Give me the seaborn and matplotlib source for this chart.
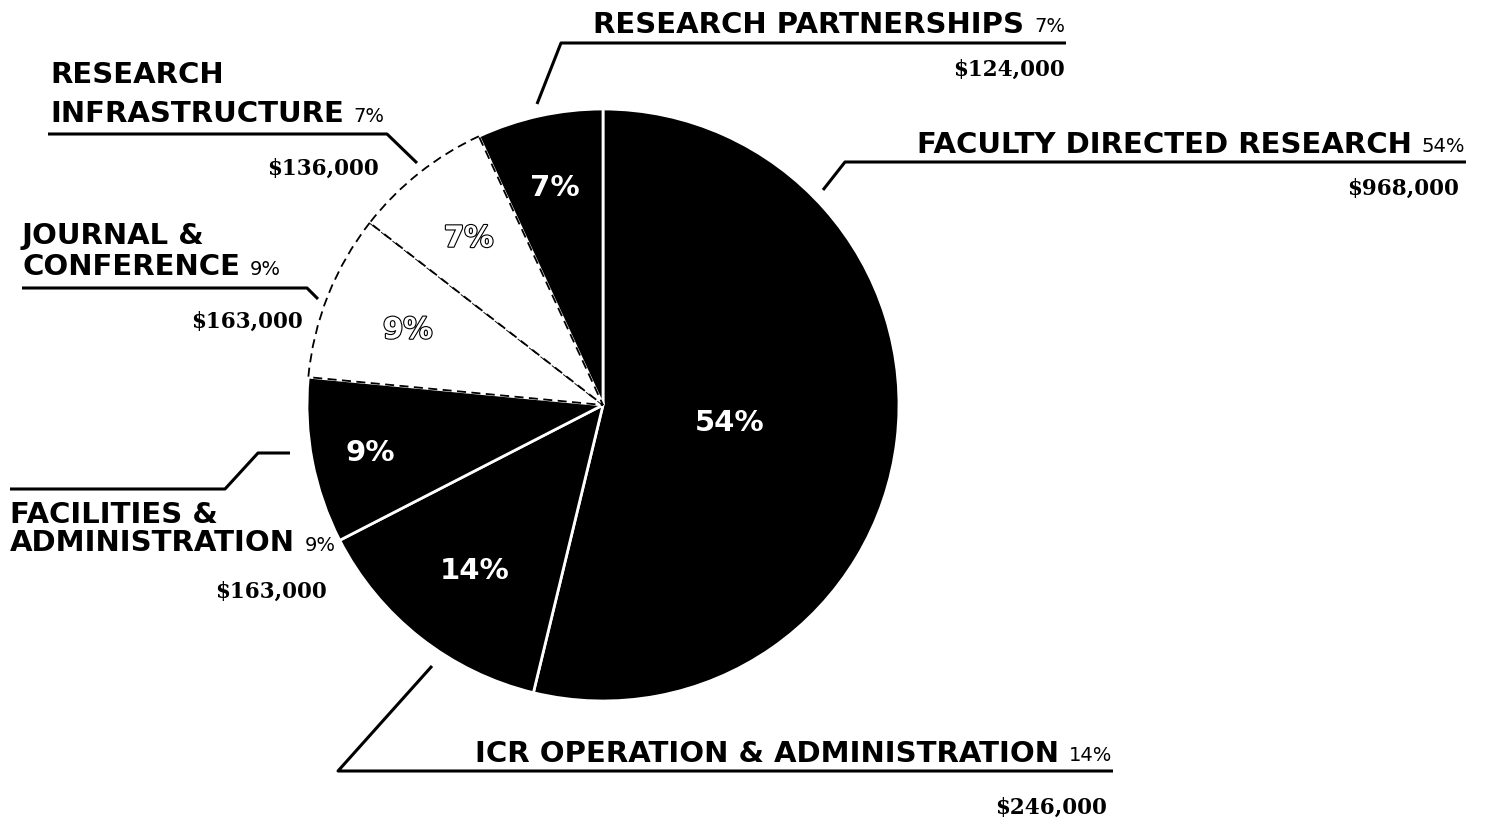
import numpy as np
import matplotlib
matplotlib.use("Agg")
import matplotlib.pyplot as plt
import matplotlib.patheffects as pe
import seaborn as sns

# data, clockwise from 12 o'clock
categories = ["FACULTY DIRECTED RESEARCH", "ICR OPERATION & ADMINISTRATION",
              "FACILITIES & ADMINISTRATION", "JOURNAL & CONFERENCE",
              "RESEARCH INFRASTRUCTURE", "RESEARCH PARTNERSHIPS"]
amounts = [968000, 246000, 163000, 163000, 136000, 124000]
percent_labels = ["54%", "14%", "9%", "9%", "7%", "7%"]

sns.set_theme(style="white")
plt.rcParams["font.family"] = ["DejaVu Sans"]

slice_colors = ["black", "black", "black", "white", "white", "black"]
inner_radius = [0.43, 0.70, 0.80, 0.71, 0.73, 0.76]

# pixel layout of the reference (pie centre and radius)
CX, CY, R = 603, 405, 296


def P(x, y):
    return (x - CX) / R, (CY - y) / R


fig = plt.figure(figsize=(14.87, 8.21), dpi=100)
ax = fig.add_axes([0, 0, 1, 1])

wedges, _ = ax.pie(amounts, startangle=90, counterclock=False, colors=slice_colors,
                   radius=1, center=(0, 0))
for w, c in zip(wedges, slice_colors):
    if c == "black":
        w.set_edgecolor("white")
        w.set_linewidth(2)
    else:
        w.set_edgecolor("black")
        w.set_linewidth(1.3)
        w.set_linestyle((0, (5, 3)))
        w.set_zorder(3)

# percentages inside slices
for w, pct, r, c in zip(wedges, percent_labels, inner_radius, slice_colors):
    ang = np.deg2rad((w.theta1 + w.theta2) / 2)
    t = ax.text(r * np.cos(ang), r * np.sin(ang), pct, ha="center", va="center_baseline",
                fontsize=21, fontweight="bold", color="white", zorder=5)
    if c == "white":
        t.set_path_effects([pe.Stroke(linewidth=1.6, foreground="black"), pe.Normal()])

TITLE = dict(fontsize=21, fontweight="bold", color="black")
PCT = dict(fontsize=14, color="black")
MONEY = dict(fontsize=15.5, fontweight="bold", color="black", family="DejaVu Serif")


def line(pts):
    xs, ys = zip(*[P(x, y) for x, y in pts])
    ax.plot(xs, ys, color="black", lw=2.2, solid_capstyle="butt", zorder=4)


def left_label(lines, x, baselines, pct):
    last = None
    for s, b in zip(lines, baselines):
        last = ax.text(*P(x, b), s, ha="left", va="baseline", **TITLE)
    ax.annotate(pct, xy=(1, 0), xycoords=last, xytext=(7, 1.8),
                textcoords="offset points", ha="left", va="bottom", **PCT)


def right_label(title, x_right, baseline, pct):
    p = ax.text(*P(x_right, baseline), pct, ha="right", va="baseline", **PCT)
    ax.annotate(title, xy=(0, 0), xycoords=p, xytext=(-7, -1.8),
                textcoords="offset points", ha="right", va="bottom", **TITLE)


def money(value, x_right, baseline):
    ax.text(*P(x_right, baseline), f"${value:,}", ha="right", va="baseline", **MONEY)


# Research Partnerships
right_label("RESEARCH PARTNERSHIPS", 1065, 32, percent_labels[5])
line([(537, 104), (561, 43), (1066, 43)])
money(amounts[5], 1065, 76)

# Faculty Directed Research
right_label("FACULTY DIRECTED RESEARCH", 1465, 152, percent_labels[0])
line([(823, 190), (845, 162), (1466, 162)])
money(amounts[0], 1459, 195)

# Research Infrastructure
left_label(["RESEARCH", "INFRASTRUCTURE"], 50, [83, 122], percent_labels[4])
line([(48, 134), (387, 134), (417, 163)])
money(amounts[4], 379, 175)

# Journal & Conference
left_label(["JOURNAL &", "CONFERENCE"], 22, [244, 275], percent_labels[3])
line([(22, 288), (307, 288), (318, 299)])
money(amounts[3], 303, 328)

# Facilities & Administration
left_label(["FACILITIES &", "ADMINISTRATION"], 10, [523, 551], percent_labels[2])
line([(290, 453), (258, 453), (225, 489), (10, 489)])
money(amounts[2], 327, 598)

# ICR Operation & Administration
right_label("ICR OPERATION & ADMINISTRATION", 1112, 761, percent_labels[1])
line([(432, 666), (338, 771), (1113, 771)])
money(amounts[1], 1107, 814)

x0, _ = P(0, 0)
x1, _ = P(1487, 0)
_, y0 = P(0, 821)
_, y1 = P(0, 0)
ax.set_xlim(x0, x1)
ax.set_ylim(y0, y1)
ax.set_aspect("auto")
ax.axis("off")

fig.savefig("out.png", dpi=100, facecolor="white")
